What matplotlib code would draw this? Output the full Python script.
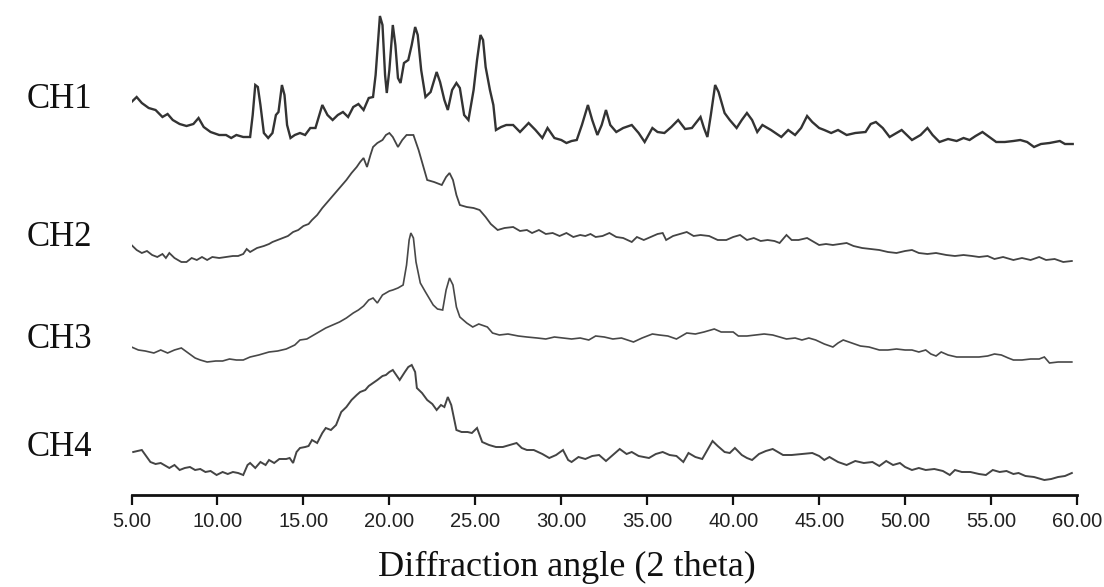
import matplotlib
matplotlib.use("Agg")
import matplotlib.pyplot as plt
import numpy as np

# ---------------- data (2-theta, relative intensity) ----------------
ch1_angle = [5.0, 5.3, 5.6, 6.0, 6.4, 6.8, 7.1, 7.4, 7.8, 8.2, 8.6, 8.9, 9.2, 9.6, 10.1, 10.5, 10.8, 11.1, 11.5, 11.9,
             12.05, 12.2, 12.35, 12.5, 12.7, 12.95, 13.2, 13.4, 13.55, 13.75, 13.9, 14.05, 14.25, 14.5, 14.8, 15.1,
             15.4, 15.7, 16.1, 16.4, 16.7, 17.0, 17.3, 17.6, 17.9, 18.2, 18.5, 18.8, 19.05, 19.2, 19.35, 19.45, 19.6,
             19.75, 19.85, 20.0, 20.2, 20.35, 20.5, 20.65, 20.85, 21.1, 21.3, 21.5, 21.65, 21.85, 22.1, 22.4, 22.75,
             22.95, 23.2, 23.4, 23.65, 23.9, 24.1, 24.35, 24.6, 24.9, 25.1, 25.3, 25.45, 25.6, 25.85, 26.05, 26.2,
             26.5, 26.8, 27.2, 27.6, 28.1, 28.5, 28.9, 29.2, 29.6, 30.0, 30.3, 30.6, 30.9, 31.2, 31.55, 31.8, 32.1,
             32.35, 32.6, 32.85, 33.2, 33.6, 34.1, 34.5, 34.85, 35.3, 35.6, 36.0, 36.4, 36.8, 37.2, 37.6, 38.1, 38.3,
             38.5, 38.7, 38.95, 39.15, 39.5, 39.8, 40.2, 40.5, 40.8, 41.1, 41.4, 41.7, 42.2, 42.8, 43.2, 43.6, 43.95,
             44.3, 44.6, 45.0, 45.3, 45.7, 46.1, 46.6, 47.1, 47.7, 48.0, 48.3, 48.7, 49.1, 49.5, 49.8, 50.1, 50.4,
             50.9, 51.3, 51.6, 52.0, 52.5, 53.0, 53.4, 53.75, 54.1, 54.5, 54.9, 55.3, 55.8, 56.3, 56.7, 57.1, 57.5,
             57.9, 58.4, 59.0, 59.3, 59.75]
ch1_int = [48, 53, 47, 42, 40, 33, 36, 30, 26, 24, 26, 32, 23, 18, 15, 15, 12, 15, 13, 13,
           35, 65, 63, 45, 17, 12, 17, 35, 38, 65, 55, 25, 12, 15, 17, 15,
           22, 22, 45, 35, 30, 35, 38, 33, 43, 46, 40, 52, 53, 75, 110, 134, 125,
           75, 57, 80, 125, 105, 72, 67, 87, 90, 105, 123, 115, 80, 53, 58, 78,
           68, 50, 40, 60, 67, 62, 35, 30, 60, 90, 115, 110, 83, 60, 45, 20,
           23, 25, 25, 18, 27, 20, 12, 22, 12, 10, 7, 9, 10, 25, 45, 30, 15,
           25, 40, 25, 18, 22, 25, 17, 8, 22, 18, 17, 23, 30, 21, 22, 33, 22,
           13, 35, 65, 58, 37, 30, 22, 30, 37, 30, 18, 25, 20, 13, 20, 15, 22,
           34, 28, 22, 20, 17, 20, 15, 17, 18, 26, 28, 22, 13, 17, 20, 15, 10,
           15, 22, 15, 8, 11, 9, 12, 10, 14, 18, 13, 8, 8, 9, 10, 8, 3,
           6, 7, 9, 6, 6]

ch2_angle = [5.0, 5.3, 5.6, 5.9, 6.2, 6.5, 6.8, 7.0, 7.2, 7.5, 7.9, 8.2, 8.5, 8.8, 9.1, 9.4, 9.7, 10.1, 10.5, 10.9,
             11.2, 11.5, 11.7, 11.9, 12.3, 12.7, 13.0, 13.2, 13.5, 13.8, 14.1, 14.4, 14.7, 15.0, 15.3, 15.5, 15.8,
             16.1, 16.5, 16.8, 17.1, 17.5, 17.8, 18.1, 18.3, 18.5, 18.7, 18.9, 19.05, 19.3, 19.6, 19.8, 20.0, 20.2,
             20.5, 20.75, 21.0, 21.4, 21.7, 21.95, 22.2, 22.6, 23.05, 23.3, 23.5, 23.7, 23.9, 24.1, 24.5, 24.9,
             25.25, 25.6, 25.9, 26.3, 26.7, 27.2, 27.6, 28.0, 28.3, 28.7, 29.1, 29.5, 29.9, 30.3, 30.7, 31.1, 31.4,
             31.7, 32.0, 32.4, 32.8, 33.2, 33.6, 34.1, 34.4, 34.8, 35.2, 35.6, 35.9, 36.1, 36.5, 36.9, 37.3, 37.7,
             38.1, 38.6, 39.1, 39.6, 40.0, 40.4, 40.8, 41.2, 41.6, 42.0, 42.4, 42.7, 43.1, 43.4, 43.8, 44.3, 44.7,
             45.0, 45.4, 45.8, 46.2, 46.6, 47.0, 47.5, 48.0, 48.5, 49.0, 49.5, 50.0, 50.4, 50.8, 51.3, 51.8, 52.4,
             52.9, 53.4, 53.9, 54.3, 54.8, 55.2, 55.7, 56.3, 56.8, 57.3, 57.8, 58.2, 58.7, 59.2, 59.7]
ch2_int = [20, 15, 12, 14, 10, 8, 11, 7, 12, 7, 3, 3, 7, 5, 8, 5, 8, 7, 8, 9,
           9, 11, 16, 13, 17, 19, 21, 23, 25, 27, 29, 33, 35, 39, 41, 45, 50,
           57, 65, 71, 77, 85, 92, 98, 103, 107, 98, 110, 118, 122, 125, 130, 132, 128,
           118, 125, 130, 130, 115, 100, 85, 83, 80, 88, 92, 85, 70, 60, 58, 57,
           55, 48, 41, 35, 37, 38, 34, 35, 32, 35, 31, 32, 29, 32, 28, 30, 29,
           31, 28, 29, 32, 28, 27, 23, 28, 25, 28, 31, 32, 25, 29, 31, 33, 29,
           30, 29, 25, 25, 28, 30, 25, 27, 24, 25, 24, 22, 30, 25, 25, 27, 23,
           20, 21, 20, 21, 22, 19, 17, 16, 15, 13, 12, 14, 15, 12, 11, 12, 10,
           9, 10, 9, 8, 9, 6, 8, 5, 7, 5, 8, 5, 6, 3, 4]

ch3_angle = [5.0, 5.4, 5.8, 6.3, 6.7, 7.1, 7.5, 7.9, 8.3, 8.7, 9.0, 9.4, 9.9, 10.3, 10.7, 11.1, 11.5, 11.9, 12.4,
             13.0, 13.5, 14.0, 14.5, 14.8, 15.2, 15.6, 16.0, 16.3, 16.7, 17.1, 17.5, 17.9, 18.2, 18.5, 18.8, 19.05,
             19.3, 19.6, 20.0, 20.2, 20.5, 20.8, 21.0, 21.15, 21.25, 21.4, 21.55, 21.8, 22.1, 22.55, 22.8, 23.1,
             23.3, 23.5, 23.7, 23.9, 24.1, 24.5, 24.85, 25.2, 25.7, 26.0, 26.4, 26.9, 27.5, 28.0, 28.6, 29.1, 29.6,
             30.1, 30.6, 31.1, 31.6, 32.0, 32.5, 33.0, 33.5, 34.2, 34.7, 35.3, 35.7, 36.2, 36.7, 37.0, 37.3, 37.8,
             38.3, 38.9, 39.3, 40.0, 40.3, 40.8, 41.3, 41.8, 42.3, 42.7, 43.1, 43.6, 44.0, 44.4, 44.8, 45.3, 45.8,
             46.1, 46.4, 46.9, 47.4, 47.9, 48.5, 49.0, 49.5, 50.0, 50.4, 50.8, 51.2, 51.5, 51.8, 52.1, 52.5, 53.0,
             53.6, 54.3, 54.8, 55.2, 55.6, 56.0, 56.3, 56.8, 57.3, 57.8, 58.1, 58.4, 58.9, 59.3, 59.7]
ch3_int = [18, 15, 14, 12, 15, 12, 15, 17, 12, 7, 5, 3, 4, 4, 6, 5, 5, 8, 10,
           13, 14, 16, 20, 25, 26, 30, 34, 37, 40, 43, 47, 52, 55, 59, 65, 67,
           62, 70, 74, 75, 77, 80, 100, 125, 132, 127, 103, 82, 73, 60, 56, 55,
           75, 87, 80, 58, 48, 42, 38, 41, 38, 32, 30, 31, 29, 28, 27, 26, 28,
           27, 26, 27, 25, 29, 28, 26, 27, 23, 27, 31, 30, 29, 26, 29, 32, 31,
           33, 36, 33, 33, 29, 29, 30, 31, 30, 28, 26, 27, 25, 27, 25, 21, 18,
           22, 25, 22, 19, 18, 15, 15, 16, 15, 15, 13, 15, 11, 9, 13, 10, 8,
           8, 8, 9, 11, 10, 7, 5, 5, 6, 6, 8, 2, 3, 3, 3]

ch4_angle = [5.1, 5.35, 5.6, 6.1, 6.4, 6.7, 7.0, 7.2, 7.5, 7.8, 8.1, 8.4, 8.7, 9.0, 9.3, 9.6, 9.95, 10.3, 10.6, 10.9,
             11.2, 11.5, 11.75, 11.9, 12.2, 12.5, 12.8, 13.0, 13.3, 13.6, 14.0, 14.2, 14.4, 14.6, 14.8, 15.1, 15.3,
             15.5, 15.8, 16.1, 16.3, 16.6, 16.9, 17.2, 17.5, 17.8, 18.1, 18.3, 18.6, 18.8, 19.05, 19.3, 19.6, 19.8,
             20.0, 20.2, 20.4, 20.6, 20.9, 21.1, 21.3, 21.5, 21.6, 21.9, 22.2, 22.5, 22.75, 23.0, 23.2, 23.4, 23.6,
             23.9, 24.2, 24.55, 24.8, 25.1, 25.4, 25.8, 26.2, 26.6, 27.0, 27.4, 27.7, 28.0, 28.4, 28.9, 29.3, 29.7,
             30.1, 30.4, 30.6, 31.0, 31.4, 31.8, 32.2, 32.6, 33.0, 33.4, 33.8, 34.1, 34.5, 35.1, 35.5, 35.9, 36.3,
             36.7, 37.1, 37.4, 37.8, 38.2, 38.5, 38.8, 39.1, 39.5, 39.8, 40.1, 40.5, 40.8, 41.1, 41.5, 41.9, 42.3,
             42.6, 42.9, 43.4, 44.0, 44.6, 45.0, 45.3, 45.6, 46.1, 46.6, 47.1, 47.6, 48.1, 48.5, 48.9, 49.3, 49.7,
             50.0, 50.4, 50.8, 51.2, 51.7, 52.2, 52.6, 52.9, 53.3, 53.8, 54.3, 54.7, 55.1, 55.5, 55.9, 56.3, 56.6,
             57.0, 57.5, 58.1, 58.5, 58.9, 59.3, 59.7]
ch4_int = [28, 29, 30, 18, 16, 17, 14, 12, 15, 10, 12, 13, 10, 11, 8, 9, 5, 8, 6, 8,
           7, 5, 15, 17, 12, 18, 15, 20, 17, 21, 21, 22, 17, 28, 32, 33, 34,
           40, 37, 47, 52, 50, 55, 68, 73, 80, 85, 88, 90, 94, 97, 100, 104, 105,
           108, 110, 105, 100, 108, 113, 115, 108, 92, 87, 80, 76, 70, 75, 73, 83, 75,
           50, 48, 48, 47, 52, 38, 35, 33, 33, 35, 37, 32, 30, 30, 26, 22, 25,
           30, 20, 18, 23, 21, 24, 25, 19, 25, 31, 26, 28, 24, 22, 26, 28, 25,
           24, 18, 27, 23, 21, 30, 39, 34, 28, 27, 32, 25, 22, 20, 26, 29, 31,
           28, 25, 25, 26, 27, 24, 20, 23, 18, 15, 19, 17, 18, 14, 19, 15, 17,
           13, 10, 12, 10, 11, 9, 5, 10, 8, 8, 6, 5, 10, 8, 9, 6, 7,
           4, 3, 0, 1, 3, 4, 7]

sample_names = ["CH1", "CH2", "CH3", "CH4"]
x_ticks = [5, 10, 15, 20, 25, 30, 35, 40, 45, 50, 55, 60]

# ---------------- figure ----------------
W, H = 1104, 587
fig = plt.figure(figsize=(W / 100, H / 100), dpi=100)
ax = fig.add_axes([131.5 / W, 92 / H, (1077 - 131.5) / W, 495 / H])

series = [(ch1_angle, ch1_int), (ch2_angle, ch2_int), (ch3_angle, ch3_int), (ch4_angle, ch4_int)]
offsets = [345, 230, 130, 15]
widths = [1.7, 1.3, 1.2, 1.4]
colors = ["#333333", "#444444", "#484848", "#444444"]
for (a, i), off, lw, c in zip(series, offsets, widths, colors):
    ax.plot(a, np.asarray(i) + off, color=c, lw=lw, solid_joinstyle="miter")

ax.set_xlim(5, 60)
ax.set_ylim(0, 495)
for s in ["left", "right", "top"]:
    ax.spines[s].set_visible(False)
ax.spines["bottom"].set_linewidth(2.0)
ax.spines["bottom"].set_color("#111111")
ax.set_yticks([])
ax.set_xticks(x_ticks)
ax.set_xticklabels([f"{t:.2f}" for t in x_ticks], fontfamily="Liberation Sans", fontsize=14.5, color="#222222")
ax.tick_params(axis="x", direction="out", length=7.5, width=1.6, color="#111111", pad=5)
ax.patch.set_visible(False)

label_y = [100, 237, 340, 447]
for name, yp in zip(sample_names, label_y):
    fig.text(27 / W, 1 - yp / H, name, fontfamily="Liberation Serif", fontsize=25,
             ha="left", va="center", color="#111111")

fig.text(567 / W, 1 - 567 / H, "Diffraction angle (2 theta)", fontfamily="Liberation Serif",
         fontsize=26, ha="center", va="center", color="#111111")

fig.savefig("out.png", dpi=100)
